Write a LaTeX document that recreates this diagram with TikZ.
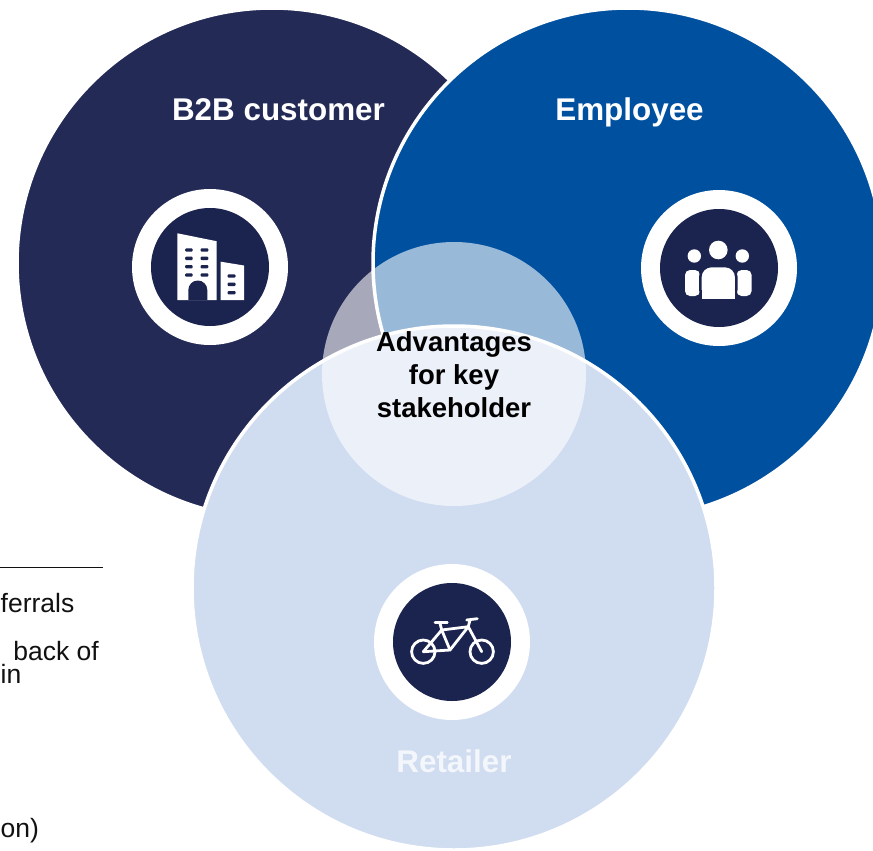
\documentclass[tikz,border=0pt]{standalone}
\usepackage{fontspec}
\setmainfont{Liberation Sans}
\definecolor{bnavy}{HTML}{232A56}
\definecolor{eblue}{HTML}{0050A0}
\definecolor{rlight}{HTML}{D0DCF0}
\definecolor{icondark}{HTML}{1B244F}
\definecolor{rtext}{HTML}{F3F6FB}
\definecolor{txtdark}{HTML}{111111}
\begin{document}
\begin{tikzpicture}[x=1pt,y=-1pt,
  bigcirc/.style={circle, inner sep=0pt, minimum size=#1, draw=white, line width=3.5pt},
  ring/.style={circle, inner sep=0pt, minimum size=156pt, fill=white},
  iconbg/.style={circle, inner sep=0pt, minimum size=118pt, fill=icondark},
  title/.style={font=\bfseries\fontsize{31.4}{36}\selectfont, text=white, anchor=base, inner sep=0pt},
  ctrtext/.style={font=\bfseries\fontsize{27.5}{33}\selectfont, text=black, anchor=base, inner sep=0pt},
  sidetext/.style={font=\fontsize{26.5}{28}\selectfont, text=txtdark, inner sep=0pt},
  win/.style={fill=icondark, rounded corners=1pt},
  spoke/.style={draw=white, line width=2.8pt, line cap=round, line join=round}
]
\useasboundingbox (0,0) rectangle (873,851);
\begin{scope}
\clip (0,0) rectangle (873,851);

% big circles
\node[bigcirc=510pt, fill=bnavy] (b2b) at (272,263) {};
\node[bigcirc=510pt, fill=eblue] (emp) at (628,263) {};
\node[bigcirc=524pt, fill=rlight] (ret) at (454,588) {};

% center overlay
\node[circle, inner sep=0pt, minimum size=264pt, fill=white, fill opacity=0.6] (ctr) at (454,374) {};

% titles
\node[title] (tb2b) at (278.5,120) {B2B customer};
\node[title] (temp) at (629.5,120) {Employee};
\node[title, text=rtext] (tret) at (454,772) {Retailer};

\node[ctrtext] (c1) at (454,351) {Advantages};
\node[ctrtext] (c2) at (454,384) {for key};
\node[ctrtext] (c3) at (454,417) {stakeholder};

% icon rings
\node[ring] (rb) at (210,267) {};
\node[iconbg] (ib) at (210,267) {};
\node[ring] (re) at (719,268) {};
\node[iconbg] (ie) at (719,268) {};
\node[ring] (rr) at (452,642) {};
\node[iconbg] (ir) at (452,642) {};

% building icon
\fill[white] (177.3,233.3) -- (216.7,241.2) -- (216.7,300) -- (177.3,300) -- cycle;
\fill[icondark] (188.3,300) -- (188.3,290) arc[start angle=180, end angle=0, radius=9.5pt] -- (207.3,300) -- cycle;
\foreach \yy in {248.3,256.7,265,273.3}{
  \fill[win] (185.2,\yy) rectangle (192.7,\yy+3.4);
  \fill[win] (200.5,\yy) rectangle (208.3,\yy+3.4);
}
\fill[white] (220.7,261.7) -- (244,265.5) -- (244,300) -- (220.7,300) -- cycle;
\foreach \yy in {274.3,282.7,291}{
  \fill[win] (227.5,\yy) rectangle (235.5,\yy+3.4);
}

% people icon
\fill[white] (694.3,256) circle[radius=6.7pt];
\fill[white] (742.3,256) circle[radius=6.7pt];
\fill[white] (718.3,250) circle[radius=9.3pt];
\fill[white, rounded corners=5pt] (685,296) -- (685,270) -- (700,270) -- (700,296) -- cycle;
\fill[white, rounded corners=5pt] (736.6,296) -- (736.6,270) -- (751.6,270) -- (751.6,296) -- cycle;
\filldraw[fill=white, draw=icondark, line width=2.6pt, rounded corners=11pt]
  (700.3,300.5) -- (700.3,266) -- (736.3,266) -- (736.3,300.5) -- cycle;
\fill[white] (701.6,290) rectangle (735,299.2);

% bike icon
\draw[spoke] (423.3,651.7) circle[radius=11.7pt];
\draw[spoke] (481.7,651.7) circle[radius=11.7pt];
\draw[spoke] (423.3,651.7) -- (441.7,630) -- (468.3,626.7) -- (450,650) -- cycle;
\draw[spoke] (441.7,630) -- (450,650);
\draw[spoke] (468.3,626.7) -- (481.7,651.7);
\draw[spoke] (441.7,630) -- (440,623.3);
\draw[spoke] (435,622.7) -- (447.3,622.7);
\draw[spoke] (468.3,626.7) -- (470,620);
\draw[spoke] (466.7,620) -- (477.3,618.7);

% left fragments
\coordinate (la) at (0,567.5);
\coordinate (lb) at (103,567.5);
\draw[txtdark, line width=1.3pt] (la) -- (lb);
\node[sidetext, anchor=base west] (f1) at (0.5,612) {ferrals};
\node[sidetext, anchor=base east] (f2) at (99,660) {back of};
\node[sidetext, anchor=base west] (f3) at (0.5,683) {in};
\node[sidetext, anchor=base west] (f4) at (0.5,837) {on)};
\end{scope}
\end{tikzpicture}
\end{document}
